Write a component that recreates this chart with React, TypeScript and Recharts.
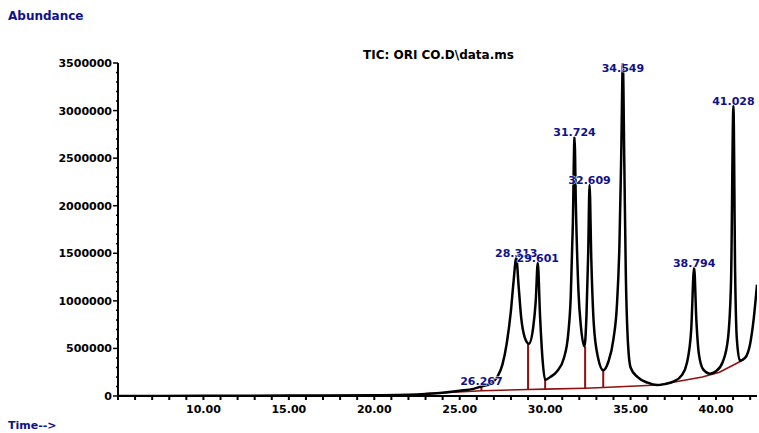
import React from 'react';
import { ComposedChart, Line, XAxis, YAxis, ReferenceLine, LabelList } from 'recharts';

// TIC trace (time in min, abundance)
const traceTimes = [5, 10, 15, 20, 22, 23, 24, 25, 25.8, 26.27, 26.8, 27.2, 27.5, 27.75, 28.0, 28.15, 28.31, 28.45, 28.6, 28.8, 29.05, 29.3, 29.45, 29.57, 29.7, 29.85, 30.0, 30.3, 30.7, 31.1, 31.35, 31.5, 31.62, 31.72, 31.8, 31.95, 32.1, 32.3, 32.42, 32.52, 32.6, 32.7, 32.85, 33.1, 33.4, 33.7, 34.0, 34.2, 34.35, 34.45, 34.55, 34.63, 34.72, 34.85, 35.0, 35.4, 36.0, 36.55, 37.0, 37.5, 38.0, 38.3, 38.55, 38.72, 38.85, 39.0, 39.25, 39.65, 40.0, 40.4, 40.7, 40.88, 41.02, 41.12, 41.22, 41.4, 41.7, 42.0, 42.2, 42.4];
const traceValues = [0, 2000, 4000, 8000, 12000, 20000, 35000, 55000, 75000, 100000, 130000, 200000, 330000, 550000, 900000, 1200000, 1450000, 1150000, 820000, 620000, 550000, 720000, 1000000, 1400000, 850000, 380000, 170000, 200000, 260000, 400000, 650000, 1050000, 1800000, 2720000, 2000000, 1100000, 720000, 520000, 850000, 1500000, 2220000, 1450000, 750000, 400000, 270000, 360000, 600000, 950000, 1600000, 2500000, 3500000, 2500000, 1300000, 550000, 300000, 200000, 140000, 115000, 125000, 150000, 220000, 350000, 700000, 1350000, 800000, 440000, 280000, 235000, 260000, 360000, 600000, 1200000, 3050000, 1300000, 600000, 370000, 400000, 550000, 800000, 1170000];

// integration baseline
const baseTimes = [23.0, 26.3, 29.0, 30.0, 32.34, 33.4, 36.6, 39.2, 40.2, 41.5];
const baseValues = [25000, 55000, 68000, 72000, 82000, 90000, 115000, 200000, 250000, 370000];

// drop lines at peak boundaries
const dropTimes = [26.27, 29.0, 30.0, 32.34, 33.4];
const dropLow = [55000, 68000, 72000, 82000, 90000];
const dropHigh = [100000, 550000, 170000, 520000, 270000];

// labelled peak apexes (times are points of the trace)
const peakTimes = [26.27, 28.31, 29.57, 31.72, 32.6, 34.55, 38.72, 41.02];
const peakLabels = ['26.267', '28.313', '29.601', '31.724', '32.609', '34.549', '38.794', '41.028'];

const xTicks = Array.from({ length: 38 }, (_, i) => 5 + i);
const yTicks = Array.from({ length: 36 }, (_, i) => i * 100000);

const trace = traceTimes.map((t, i) => {
  const k = peakTimes.indexOf(t);
  return { t, v: traceValues[i], label: k >= 0 ? peakLabels[k] : undefined };
});
const baseline = baseTimes.map((t, i) => ({ t, v: baseValues[i] }));

const FONT = '"DejaVu Sans", sans-serif';
const NAVY = '#10108a';
const RED = '#8e1010';

const XTick = (props: any) => {
  const { x, y, payload } = props;
  const v = payload.value as number;
  const show = v % 5 === 0 && v >= 10;
  return (
    <g>
      <line x1={x} x2={x} y1={y} y2={y + 4} stroke="#000" strokeWidth={2} />
      {show && (
        <text x={x} y={y + 17} textAnchor="middle" fontFamily={FONT} fontWeight="bold" fontSize={11} fill="#000">
          {v.toFixed(2)}
        </text>
      )}
    </g>
  );
};

const YTick = (props: any) => {
  const { x, y, payload } = props;
  const v = payload.value as number;
  const major = v % 500000 === 0;
  return (
    <g>
      <line x1={x - (major ? 5 : 2)} x2={x} y1={y} y2={y} stroke="#000" strokeWidth={1.5} />
      {major && (
        <text x={x - 6} y={y + 4} textAnchor="end" fontFamily={FONT} fontWeight="bold" fontSize={11} fill="#000">
          {v}
        </text>
      )}
    </g>
  );
};

// peak label sits on the apex, but never above the top of the plot
const PeakLabel = (props: any) => {
  const { x, y, value } = props;
  if (!value) return null;
  return (
    <text
      x={x}
      y={Math.max(y - 1, 72)}
      textAnchor="middle"
      fontFamily={FONT}
      fontWeight="bold"
      fontSize={11}
      fill={NAVY}
      stroke="#fff"
      strokeWidth={1}
      paintOrder="stroke"
    >
      {value}
    </text>
  );
};

export default function App() {
  return (
    <div style={{ position: 'absolute', left: 0, top: 0, width: 759, height: 433, background: '#fff' }}>
      <div style={{ position: 'absolute', left: 8, top: 9, fontFamily: FONT, fontWeight: 'bold', fontSize: 12, color: NAVY }}>
        Abundance
      </div>
      <div style={{ position: 'absolute', left: 363, top: 48, fontFamily: FONT, fontWeight: 'bold', fontSize: 12, color: '#000' }}>
        TIC: ORI CO.D\data.ms
      </div>
      <div style={{ position: 'absolute', left: 8, top: 419, fontFamily: FONT, fontWeight: 'bold', fontSize: 11, color: NAVY }}>
        Time--&gt;
      </div>
      <ComposedChart width={759} height={433} margin={{ top: 63, right: 2, bottom: 0, left: 58 }}>
        <XAxis
          type="number"
          dataKey="t"
          domain={[5, 42.4]}
          allowDataOverflow
          ticks={xTicks}
          interval={0}
          tick={<XTick />}
          tickLine={false}
          tickSize={0}
          tickMargin={0}
          height={37}
          axisLine={{ stroke: '#000', strokeWidth: 2 }}
        />
        <YAxis
          type="number"
          dataKey="v"
          domain={[0, 3500000]}
          allowDataOverflow
          ticks={yTicks}
          interval={0}
          tick={<YTick />}
          tickLine={false}
          tickSize={0}
          tickMargin={0}
          width={60}
          axisLine={{ stroke: '#000', strokeWidth: 2 }}
        />
        <Line data={baseline} dataKey="v" type="linear" stroke={RED} strokeWidth={1.6} dot={false} isAnimationActive={false} />
        {dropTimes.map((t, i) => (
          <ReferenceLine
            key={t}
            segment={[{ x: t, y: dropLow[i] }, { x: t, y: dropHigh[i] }]}
            stroke={RED}
            strokeWidth={2}
          />
        ))}
        <Line data={trace} dataKey="v" type="monotone" stroke="#000" strokeWidth={2.5} dot={false} isAnimationActive={false}>
          <LabelList dataKey="label" content={<PeakLabel />} />
        </Line>
      </ComposedChart>
    </div>
  );
}
